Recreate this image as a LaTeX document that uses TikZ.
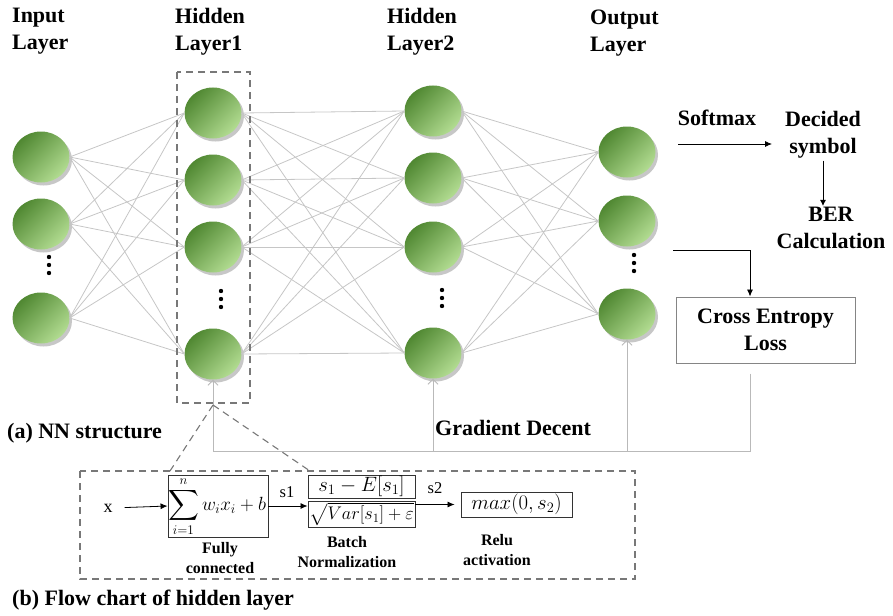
\documentclass[tikz,border=0pt]{standalone}
\usepackage{amsmath}
\usepackage{fontspec}
\setmainfont{Liberation Serif}
\usetikzlibrary{shapes.geometric,arrows.meta,shadows}
\definecolor{gdark}{RGB}{80,136,50}
\definecolor{glight}{RGB}{178,220,145}
\definecolor{edgegray}{RGB}{198,198,198}
\definecolor{fbgray}{RGB}{185,185,185}
\definecolor{dashgray}{RGB}{120,120,120}
\begin{document}
\begin{tikzpicture}[x=1pt,y=-1pt,
  neuron/.style={ellipse, minimum width=57pt, minimum height=51pt, inner sep=0,
    top color=gdark, bottom color=glight, shading angle=45, draw=none,
    drop shadow={shadow xshift=2.5pt, shadow yshift=-3pt, opacity=0.22, fill=black}},
  conn/.style={draw=edgegray, line width=0.8pt},
  toplbl/.style={font=\bfseries\fontsize{22}{27}\selectfont, align=left, anchor=north west, inner sep=0},
  biglbl/.style={font=\bfseries\fontsize{22}{27}\selectfont, align=center, inner sep=0},
  sublbl/.style={font=\bfseries\fontsize{16}{20.5}\selectfont, align=center, inner sep=0},
  smalltxt/.style={font=\fontsize{16.5}{18}\selectfont, inner sep=0},
  mathbox/.style={draw=black!80, line width=0.9pt, inner sep=0},
  mathtxt/.style={inner sep=0, font=\fontsize{20.74}{24}\selectfont},
  blk/.style={draw=black, line width=0.8pt, -{Latex[length=7pt,width=6pt]}},
  fbline/.style={draw=fbgray, line width=0.9pt},
  fbarrow/.style={draw=fbgray, line width=0.9pt, -{Straight Barb[length=5pt,width=10pt]}},
  dashbox/.style={draw=dashgray, line width=1.3pt, dash pattern=on 7pt off 5pt},
  dot/.style={fill=black}
]
\useasboundingbox (0,0) rectangle (893,615);

% top labels
\node[toplbl] (tin) at (12,8) {Input\\Layer};
\node[toplbl] (th1) at (175,8) {Hidden\\Layer1};
\node[toplbl] (th2) at (387,8) {Hidden\\Layer2};
\node[toplbl] (tout) at (590,10) {Output\\Layer};

% neurons
\foreach \n/\y in {1/157,2/224,3/318} \node[neuron] (i\n) at (41,\y) {};
\foreach \n/\y in {1/113,2/180,3/247,4/354} \node[neuron] (h1\n) at (213,\y) {};
\foreach \n/\y in {1/111,2/178,3/247,4/353} \node[neuron] (h2\n) at (433,\y) {};
\foreach \n/\y in {1/152,2/221,3/314} \node[neuron] (o\n) at (627,\y) {};

% connections
\foreach \a in {1,2,3} \foreach \b in {1,...,4} \draw[conn] (i\a.east) -- (h1\b.west);
\foreach \a in {1,...,4} \foreach \b in {1,...,4} \draw[conn] (h1\a.east) -- (h2\b.west);
\foreach \a in {1,...,4} \foreach \b in {1,2,3} \draw[conn] (h2\a.east) -- (o\b.west);

% dots
\foreach \y in {257,265,273} \fill[dot] (49,\y) circle (2.2pt);
\foreach \y in {291,299,307} \fill[dot] (221,\y) circle (2.2pt);
\foreach \y in {290,298,306} \fill[dot] (442,\y) circle (2.2pt);
\foreach \y in {255,263,271} \fill[dot] (634,\y) circle (2.2pt);

% hidden layer box
\draw[dashbox] (177,72) rectangle (250,403);

% right side
\node[biglbl] (sm) at (717,118) {Softmax};
\node[biglbl] (dec) at (823,135) {Decided\\symbol};
\node[biglbl] (ber) at (831,228) {BER\\Calculation};
\coordinate (smA) at (678,144);
\coordinate (smB) at (772,144);
\draw[blk] (smA) -- (smB);
\draw[draw=black, line width=0.8pt, -{Latex[length=6pt,width=6pt]}, shorten <=2pt, shorten >=1pt] (dec.south) -- (dec.south |- ber.north);

\node[draw=dashgray!90, line width=1pt, minimum width=179pt, minimum height=66pt, biglbl] (ce) at (765.5,330) {Cross Entropy\\Loss};
\coordinate (ceA) at (673,250);
\coordinate (ceB) at (750,250);
\draw[blk] (ceA) -- (ceB) -- (ceB |- ce.north);

% feedback
\coordinate (fbR) at (750,451);
\coordinate (fbL) at (213,451);
\draw[fbline] (ceB |- ce.south) ++(0,10) -- (fbR) -- (fbL);
\draw[fbarrow] (fbL) -- (h14.south);
\draw[fbarrow] (h24.south |- fbL) -- (h24.south);
\draw[fbarrow] (o3.south |- fbL) -- (o3.south);

\node[biglbl, anchor=west] (gd) at (435,428) {Gradient Decent};
\node[biglbl, anchor=west] (capa) at (7,433) {(a) NN structure};
\node[biglbl, anchor=west] (capb) at (12,600) {(b) Flow chart of hidden layer};

% zoom lines and sub box
\coordinate (hb) at (213,405);
\coordinate (subL) at (170,471);
\coordinate (subR) at (310,471);
\draw[dashbox, line width=1.1pt] (hb) -- (subL);
\draw[dashbox, line width=1.1pt] (hb) -- (subR);
\draw[dashbox] (80,471) rectangle (635,579);

% flow chart
\node[smalltxt, font=\fontsize{18}{20}\selectfont] (xin) at (108,508) {x};
\node[mathbox, minimum width=100pt, minimum height=62pt] (fc) at (218,506) {};
\node[mathtxt] (fcm) at (217,507)
  {\scalebox{0.92}{$\displaystyle\mathop{\vcenter{\hbox{\scalebox{1.12}{$\displaystyle\sum$}}}}\limits_{i=1}^{n} w_i x_i + b$}};
\node[mathbox, minimum width=107pt, minimum height=23pt, mathtxt] (bnn) at (361.5,486.5) {$s_1 - E[s_1]$};
\node[mathbox, minimum width=107pt, minimum height=26pt, mathtxt] (bnd) at (361.5,514) {\scalebox{0.88}{$\sqrt{Var[s_1]+\varepsilon}$}};
\node[mathbox, minimum width=111pt, minimum height=25pt, mathtxt] (relu) at (516.5,504.5) {$max(0,s_2)$};

\draw[blk, shorten <=12pt] (xin.east) -- (fc.west);
\draw[blk] (fc.east) -- (fc.east -| bnd.west);
\draw[blk, shorten >=6pt] (relu.west -| bnd.east) -- (relu.west);

\node[smalltxt] (s1) at (287,492) {s1};
\node[smalltxt] (s2) at (435,488) {s2};

\node[sublbl] (fcl) at (220,558) {Fully\\connected};
\node[sublbl] (bnl) at (347,552) {Batch\\Normalization};
\node[sublbl] (rel) at (497,550) {Relu\\activation};
\end{tikzpicture}
\end{document}
